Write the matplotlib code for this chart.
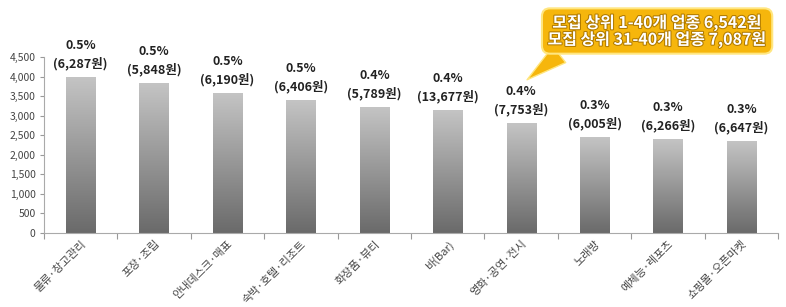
import matplotlib
matplotlib.use("Agg")
import matplotlib.pyplot as plt
import numpy as np
import matplotlib.patheffects as pe
from matplotlib.ticker import FuncFormatter, FixedLocator
from matplotlib.colors import LinearSegmentedColormap

plt.rcParams['font.family'] = ['Noto Sans CJK KR', 'DejaVu Sans']

categories = ['물류·창고관리', '포장·조립', '안내데스크·매표', '숙박·호텔·리조트', '화장품·뷰티',
              '바(Bar)', '영화·공연·전시', '노래방', '예체능·레포츠', '쇼핑몰·오픈마켓']
values = [3980, 3835, 3580, 3400, 3220, 3145, 2810, 2455, 2400, 2350]
shares = ['0.5%', '0.5%', '0.5%', '0.5%', '0.4%', '0.4%', '0.4%', '0.3%', '0.3%', '0.3%']
wages = ['(6,287원)', '(5,848원)', '(6,190원)', '(6,406원)', '(5,789원)',
         '(13,677원)', '(7,753원)', '(6,005원)', '(6,266원)', '(6,647원)']
callout_lines = ['모집 상위 1-40개 업종 6,542원', '모집 상위 31-40개 업종 7,087원']
yticks = [0, 500, 1000, 1500, 2000, 2500, 3000, 3500, 4000, 4500]

fig = plt.figure(figsize=(7.86, 3.07), dpi=100)
ax = fig.add_axes([0.056, 0.241, 0.934, 0.573])

x = np.arange(len(categories))
bars = ax.bar(x, values, width=0.4, facecolor='none', edgecolor='none')

grad = np.linspace(0, 1, 256).reshape(-1, 1)
cmap = LinearSegmentedColormap.from_list('g', ['#6a6a6a', '#c4c4c4'])
for b in bars:
    bx, by = b.get_x(), b.get_y()
    w, h = b.get_width(), b.get_height()
    im = ax.imshow(grad, extent=[bx, bx + w, by, by + h], origin='lower',
                   cmap=cmap, aspect='auto', zorder=2)
    im.set_clip_path(b)

ax.set_xlim(-0.5, len(categories) - 0.5)
ax.set_ylim(0, 4500)
ax.set_yticks(yticks)
ax.yaxis.set_major_formatter(FuncFormatter(lambda v, p: f'{int(v):,}'))
ax.tick_params(axis='y', labelsize=7.5, colors='#999999', labelcolor='#444444',
               length=3, width=0.8, pad=3)

ax.set_xticks(x)
ax.set_xticklabels(categories, rotation=45, ha='right', rotation_mode='anchor',
                   fontsize=8, color='#444444')
ax.tick_params(axis='x', which='major', length=0, pad=4)
ax.xaxis.set_minor_locator(FixedLocator(np.arange(-0.5, len(categories), 1.0)))
ax.tick_params(axis='x', which='minor', length=4, width=0.8, color='#999999')

for s in ['top', 'right']:
    ax.spines[s].set_visible(False)
for s in ['left', 'bottom']:
    ax.spines[s].set_color('#aaaaaa')
    ax.spines[s].set_linewidth(0.8)

for i, v in enumerate(values):
    ax.annotate(wages[i], (x[i], v), xytext=(0, 10), textcoords='offset points',
                ha='center', va='center', fontsize=9, fontweight='bold', color='#222222')
    ax.annotate(shares[i], (x[i], v), xytext=(0, 23), textcoords='offset points',
                ha='center', va='center', fontsize=9, fontweight='bold', color='#222222')

# callout
txt = ax.annotate('\n'.join(callout_lines), xy=(6.08, 3920), xytext=(0.836, 0.899),
                  textcoords='figure fraction',
                  ha='center', va='center', fontsize=11.5, fontweight='bold', color='white',
                  linespacing=0.95,
                  bbox=dict(boxstyle='round,pad=0.35,rounding_size=0.5', fc='#f6b60c',
                            ec='#ffe680', lw=1.5),
                  arrowprops=dict(arrowstyle='wedge,tail_width=1.3,shrink_factor=0.5',
                                  fc='#f6b60c', ec='#ffe680', lw=1.0,
                                  shrinkA=0, shrinkB=0, relpos=(0.12, 0.15)),
                  annotation_clip=False, zorder=10)
txt.set_path_effects([pe.withStroke(linewidth=1.5, foreground='#b07a00')])

fig.savefig('out.png', dpi=100)
